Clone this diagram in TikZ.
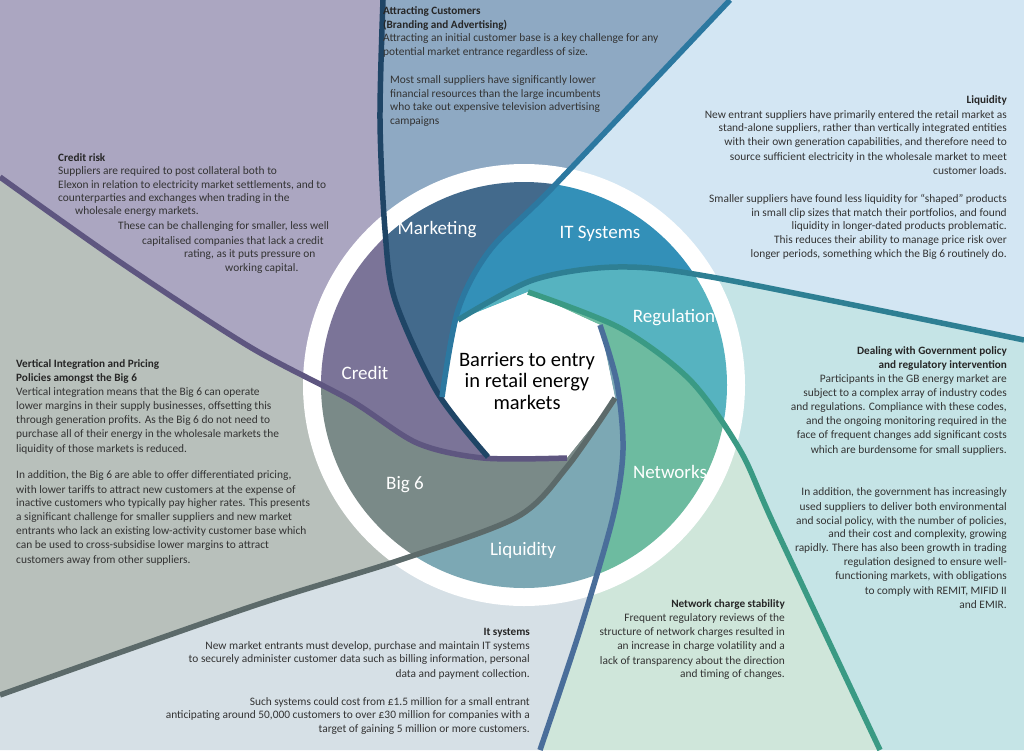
\documentclass[tikz,border=0pt]{standalone}
\usepackage{fontspec}
\setmainfont{Carlito}
\begin{document}
\begin{tikzpicture}[x=1pt,y=-1pt,
  txt/.style={font=\fontsize{11.4}{13}\selectfont,text=black!80,inner sep=0pt},
  lt/.style={txt,anchor=west},
  rt/.style={txt,anchor=east},
  bt/.style={font=\fontsize{11.2}{13}\selectfont\bfseries,text=black!85,inner sep=0pt},
  ring/.style={font=\fontsize{19}{22}\selectfont,text=white,inner sep=0pt},
  sp/.style={line width=5.5pt}]
\definecolor{bgCred}{HTML}{ABA6C1}\definecolor{bgMark}{HTML}{8EA9C3}
\definecolor{bgLiq}{HTML}{D3E6F3}\definecolor{bgReg}{HTML}{C5E4E6}
\definecolor{bgNet}{HTML}{CFE6DA}\definecolor{bgIT}{HTML}{D6E0E6}
\definecolor{bgVert}{HTML}{B8C0BB}
\definecolor{rCred}{HTML}{7B7498}\definecolor{rMark}{HTML}{436A8C}
\definecolor{rIT}{HTML}{3390B8}\definecolor{rReg}{HTML}{56B3C0}
\definecolor{rNet}{HTML}{6DBBA0}\definecolor{rLiq}{HTML}{7CA8B4}
\definecolor{rBig}{HTML}{7A8A88}
\definecolor{lP}{HTML}{5E5680}\definecolor{lN}{HTML}{1F4566}
\definecolor{lT}{HTML}{2C78A0}\definecolor{lD}{HTML}{2E7F93}
\definecolor{lG}{HTML}{3A9A84}\definecolor{lB}{HTML}{4A6E9A}
\definecolor{lY}{HTML}{5C6A6A}
\useasboundingbox (0,0) rectangle (1024,750);
\newcommand\regions[7]{%
\fill[#1] plot[smooth] coordinates {(567,458) (483,458) (417,443) (350,400) (250,347) (120,262) (0,177)} -- (0,0) -- (383,0) -- plot[smooth] coordinates {(383,0) (380,120) (385,230) (395,300) (437,392) (488,457)} -- cycle;
\fill[#2] plot[smooth] coordinates {(488,457) (437,392) (395,300) (385,230) (380,120) (383,0)} -- (730,0) -- plot[smooth] coordinates {(730,0) (555,185) (490,250) (458,310) (442,397)} -- cycle;
\fill[#3] plot[smooth] coordinates {(442,397) (458,310) (490,250) (555,185) (730,0)} -- (1024,0) -- (1024,340) -- plot[smooth] coordinates {(1024,340) (717,278) (617,267) (533,280) (458,320)} -- cycle;
\fill[#4] plot[smooth] coordinates {(458,320) (533,280) (617,267) (717,278) (1024,340)} -- (1024,750) -- (880,750) -- plot[smooth] coordinates {(880,750) (775,527) (740,450) (690,380) (620,328) (528,292)} -- cycle;
\fill[#5] plot[smooth] coordinates {(528,292) (620,328) (690,380) (740,450) (775,527) (880,750)} -- (540,750) -- plot[smooth] coordinates {(540,750) (580,630) (613,517) (623,450) (617,383) (600,325)} -- cycle;
\fill[#6] plot[smooth] coordinates {(600,325) (617,383) (623,450) (613,517) (580,630) (540,750)} -- (0,750) -- (0,695) -- plot[smooth] coordinates {(0,695) (250,607) (400,560) (517,517) (567,467) (615,398)} -- cycle;
\fill[#7] plot[smooth] coordinates {(615,398) (567,467) (517,517) (400,560) (250,607) (0,695)} -- (0,177) -- plot[smooth] coordinates {(0,177) (120,262) (250,347) (350,400) (417,443) (483,458) (567,458)} -- cycle;}
\regions{bgCred}{bgMark}{bgLiq}{bgReg}{bgNet}{bgIT}{bgVert}
\fill[white] (524,385) circle (221);
\begin{scope}
\clip (524,385) circle (203);
\regions{rCred}{rMark}{rIT}{rReg}{rNet}{rLiq}{rBig}
\end{scope}
\fill[white] (528,292)--(600,325)--(615,398)--(567,457)--(488,457)--(442,397)--(458,320)--cycle;
\draw[sp,lP] plot[smooth] coordinates {(567,458) (483,458) (417,443) (350,400) (250,347) (120,262) (0,177)};
\draw[sp,lN] plot[smooth] coordinates {(488,457) (437,392) (395,300) (385,230) (380,120) (383,0)};
\draw[sp,lT] plot[smooth] coordinates {(442,397) (458,310) (490,250) (555,185) (730,0)};
\draw[sp,lD] plot[smooth] coordinates {(458,320) (533,280) (617,267) (717,278) (1024,340)};
\draw[sp,lG] plot[smooth] coordinates {(528,292) (620,328) (690,380) (740,450) (775,527) (880,750)};
\draw[sp,lB] plot[smooth] coordinates {(600,325) (617,383) (623,450) (613,517) (580,630) (540,750)};
\draw[sp,lY] plot[smooth] coordinates {(615,398) (567,467) (517,517) (400,560) (250,607) (0,695)};
\node[ring] (mk) at (437,230) {Marketing};
\node[ring] (it) at (600,234) {IT Systems};
\node[ring] (rg) at (674,318) {Regulation};
\node[ring] (cr) at (365,373) {Credit};
\node[ring] (b6) at (405,485) {Big 6};
\node[ring] (nw) at (670,472) {Networks};
\node[ring] (lq) at (523,550) {Liquidity};
\node[font=\fontsize{20.5}{21.5}\selectfont,align=center,text=black] (ctr) at (527,381) {Barriers to entry\\in retail energy\\markets};
\node[bt,anchor=west] (a1) at (383,12) {Attracting Customers};
\node[bt,anchor=west] (a2) at (383,25) {(Branding and Advertising)};
\node[lt] (a3) at (383,39) {Attracting an initial customer base is a key challenge for any};
\node[lt] (a4) at (383,53) {potential market entrance regardless of size.};
\node[lt] (a5) at (390,81) {Most small suppliers have significantly lower};
\node[lt] (a6) at (390,95) {financial resources than the large incumbents};
\node[lt] (a7) at (390,108) {who take out expensive television advertising};
\node[lt] (a8) at (390,122) {campaigns};
\node[bt,anchor=west] (c0) at (58,158) {Credit risk};
\node[lt] (c1) at (58,171) {Suppliers are required to post collateral both to};
\node[lt] (c2) at (58,185) {Elexon in relation to electricity market settlements,  and to};
\node[lt] (c3) at (58,199) {counterparties and exchanges when trading in the};
\node[lt] (c4) at (75,212) {wholesale energy markets.};
\node[lt] (c5) at (118,227) {These can be challenging for smaller, less well};
\node[lt] (c6) at (142,241) {capitalised companies that lack a credit};
\node[lt] (c7) at (184,255) {rating, as it puts pressure on};
\node[lt] (c8) at (225,269) {working capital.};
\node[bt,anchor=east] (l0) at (1007,100) {Liquidity};
\node[rt] at (1007,115) {New entrant suppliers have primarily entered the retail market as};
\node[rt] at (1007,129) {stand-alone suppliers, rather than vertically integrated entities};
\node[rt] at (1007,143) {with their own generation capabilities, and therefore need to};
\node[rt] at (1007,157) {source sufficient electricity in the wholesale market to meet};
\node[rt] at (1007,171) {customer loads.};
\node[rt] at (1007,199) {Smaller suppliers have found less liquidity for “shaped” products};
\node[rt] at (1007,213) {in small clip sizes that match their portfolios, and found};
\node[rt] at (1007,227) {liquidity in longer-dated products problematic.};
\node[rt] at (1007,241) {This reduces their ability to manage price risk over};
\node[rt] at (1007,255) {longer periods, something which the Big 6 routinely do.};
\node[bt,anchor=east] at (1007,352) {Dealing with Government policy};
\node[bt,anchor=east] at (1007,366) {and regulatory intervention};
\node[rt] at (1007,380) {Participants in the GB energy market are};
\node[rt] at (1007,394) {subject to  a complex array of industry codes};
\node[rt] at (1007,408) {and regulations. Compliance with these codes,};
\node[rt] at (1007,422) {and the ongoing monitoring required in the};
\node[rt] at (1007,436) {face of frequent changes add significant costs};
\node[rt] at (1007,450) {which are burdensome for small suppliers.};
\node[rt] at (1007,493) {In addition, the government  has increasingly};
\node[rt] at (1007,507) {used suppliers to deliver both environmental};
\node[rt] at (1007,521) {and social policy, with the number of policies,};
\node[rt] at (1007,535) {and their cost and complexity, growing};
\node[rt] at (1007,549) {rapidly. There has also been growth  in trading};
\node[rt] at (1007,563) {regulation designed to ensure well-};
\node[rt] at (1007,577) {functioning markets, with obligations};
\node[rt] at (1007,591) {to comply with REMIT, MIFID II};
\node[rt] at (1007,605) {and EMIR.};
\node[bt,anchor=west] at (16,365) {Vertical Integration and Pricing};
\node[bt,anchor=west] at (16,379) {Policies amongst the Big 6};
\node[lt] at (16,393) {Vertical integration means that the  Big 6 can operate};
\node[lt] at (16,407) {lower margins in their supply businesses, offsetting this};
\node[lt] at (16,421) {through generation profits. As the Big 6 do not need  to};
\node[lt] at (16,435) {purchase all of their energy  in the wholesale markets the};
\node[lt] at (16,449) {liquidity of those markets is reduced.};
\node[lt] at (16,476) {In addition, the Big 6 are able to offer differentiated pricing,};
\node[lt] at (16,490) {with lower tariffs to attract new  customers at the expense of};
\node[lt] at (16,504) {inactive customers who typically pay higher rates. This presents};
\node[lt] at (16,518) {a significant challenge for smaller suppliers and new market};
\node[lt] at (16,532) {entrants who lack an existing low-activity customer base which};
\node[lt] at (16,546) {can be used to cross-subsidise lower margins to attract};
\node[lt] at (16,560) {customers away from other suppliers.};
\node[bt,anchor=east] at (785,605) {Network charge stability};
\node[rt] at (785,619) {Frequent  regulatory reviews of the};
\node[rt] at (785,633) {structure of network charges resulted in};
\node[rt] at (785,647) {an increase in charge volatility and a};
\node[rt] at (785,661) {lack of transparency about the direction};
\node[rt] at (785,675) {and timing of changes.};
\node[bt,anchor=east] at (530,633) {It systems};
\node[rt] at (530,646) {New  market entrants must develop, purchase and maintain IT systems};
\node[rt] at (530,660) {to securely administer customer data such as billing information, personal};
\node[rt] at (530,674) {data and payment  collection.};
\node[rt] at (530,702) {Such systems could cost from £1.5 million for a small entrant};
\node[rt] at (530,716) {anticipating around 50,000 customers to over £30 million for companies with a};
\node[rt] at (530,730) {target of gaining 5 million or more customers.};
\end{tikzpicture}
\end{document}
